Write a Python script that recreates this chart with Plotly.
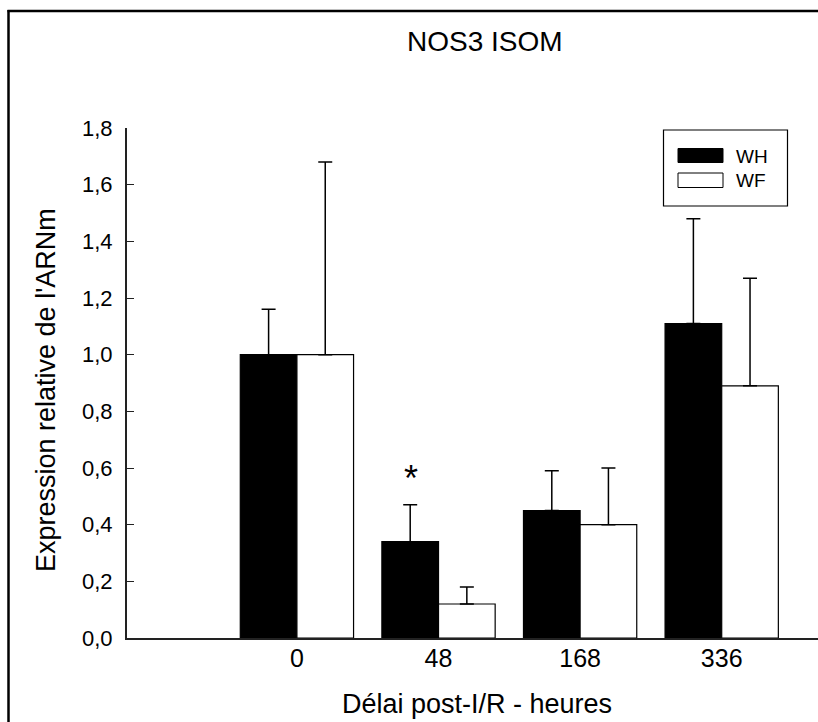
import plotly.graph_objects as go

# ---- data ----
categories = ["0", "48", "168", "336"]
series_names = ["WH", "WF"]
wh_mean = [1.00, 0.34, 0.45, 1.11]
wh_err = [0.16, 0.13, 0.14, 0.37]
wf_mean = [1.00, 0.12, 0.40, 0.89]
wf_err = [0.68, 0.06, 0.20, 0.38]
y_tick_vals = [0.0, 0.2, 0.4, 0.6, 0.8, 1.0, 1.2, 1.4, 1.6, 1.8]
y_tick_text = ["0,0", "0,2", "0,4", "0,6", "0,8", "1,0", "1,2", "1,4", "1,6", "1,8"]
title_text = "NOS3 ISOM"
x_title = "Délai post-I/R - heures"
y_title = "Expression relative de l'ARNm"
signif_text = "*"

# ---- layout geometry (pixels) ----
W, H = 818, 722
L, R, T, B = 127, 818, 128, 638
FONT = "Liberation Sans, Arial, sans-serif"


def px(x):
    return (x - L) / (R - L)


def py(y):
    return (B - y) / (B - T)


fig = go.Figure()
fig.add_trace(go.Bar(
    x=categories, y=wh_mean, name=series_names[0],
    marker=dict(color="black", line=dict(color="black", width=1.2)),
    error_y=dict(type="data", symmetric=False, array=wh_err,
                 arrayminus=[0] * len(wh_err), color="black",
                 thickness=1.5, width=7),
))
fig.add_trace(go.Bar(
    x=categories, y=wf_mean, name=series_names[1],
    marker=dict(color="white", line=dict(color="black", width=1.2)),
    error_y=dict(type="data", symmetric=False, array=wf_err,
                 arrayminus=[0] * len(wf_err), color="black",
                 thickness=1.5, width=7),
))

shapes = []
# outer frame (left + top)
shapes.append(dict(type="line", xref="paper", yref="paper",
                   x0=px(8.5), x1=px(8.5), y0=py(730), y1=py(10),
                   line=dict(color="black", width=2.5)))
shapes.append(dict(type="line", xref="paper", yref="paper",
                   x0=px(7.5), x1=px(830), y0=py(11), y1=py(11),
                   line=dict(color="black", width=2.5)))
# legend box
shapes.append(dict(type="rect", xref="paper", yref="paper",
                   x0=px(663.5), x1=px(787.5), y0=py(206), y1=py(130),
                   line=dict(color="black", width=1.2), fillcolor="white"))
shapes.append(dict(type="rect", xref="paper", yref="paper",
                   x0=px(678), x1=px(723), y0=py(162.5), y1=py(148.5),
                   line=dict(color="black", width=1), fillcolor="black"))
shapes.append(dict(type="rect", xref="paper", yref="paper",
                   x0=px(678), x1=px(723), y0=py(187.5), y1=py(173),
                   line=dict(color="black", width=1), fillcolor="white"))

annotations = [
    dict(text=title_text, xref="paper", yref="paper", x=px(405), y=py(42),
         showarrow=False, xanchor="left", yanchor="middle",
         font=dict(size=28, color="black", family=FONT)),
    dict(text=x_title, xref="paper", yref="paper", x=px(477), y=py(704),
         showarrow=False, xanchor="center", yanchor="middle",
         font=dict(size=27, color="black", family=FONT)),
    dict(text=y_title, xref="paper", yref="paper", x=px(46), y=py(390),
         showarrow=False, xanchor="center", yanchor="middle", textangle=-90,
         font=dict(size=27, color="black", family=FONT)),
    dict(text=series_names[0], xref="paper", yref="paper", x=px(734), y=py(156),
         showarrow=False, xanchor="left", yanchor="middle",
         font=dict(size=19, color="black", family=FONT)),
    dict(text=series_names[1], xref="paper", yref="paper", x=px(734), y=py(181),
         showarrow=False, xanchor="left", yanchor="middle",
         font=dict(size=19, color="black", family=FONT)),
    dict(text=signif_text, xref="x", yref="y", x=1, y=wh_mean[1] + wh_err[1],
         xshift=-28, yshift=26, showarrow=False, xanchor="center",
         yanchor="middle",
         font=dict(size=36, color="black", family=FONT)),
]

fig.update_layout(
    width=W, height=H,
    margin=dict(l=L, r=W - R, t=T, b=H - B, pad=0),
    paper_bgcolor="white", plot_bgcolor="white",
    barmode="group", bargap=0.2, bargroupgap=0,
    showlegend=False,
    shapes=shapes, annotations=annotations,
    font=dict(family=FONT, color="black", size=22),
)
fig.update_xaxes(
    type="category", range=[-1.2, 3.68], showgrid=False, zeroline=False,
    showline=True, linecolor="#222", linewidth=2, ticks="",
    tickfont=dict(size=25, family=FONT, color="black"), ticklabelstandoff=-3,
)
fig.update_yaxes(
    range=[0, 1.8], tickvals=y_tick_vals, ticktext=y_tick_text,
    showgrid=False, zeroline=False, showline=True, linecolor="#222",
    linewidth=2, ticks="inside", ticklen=7, tickwidth=1.2, tickcolor="#222",
    tickfont=dict(size=22, family=FONT, color="black"), ticklabelstandoff=8,
)

fig.write_html(
    "out.html",
    config={"displayModeBar": False},
    post_script="document.body.style.margin='0';document.body.style.overflow='hidden';",
)
